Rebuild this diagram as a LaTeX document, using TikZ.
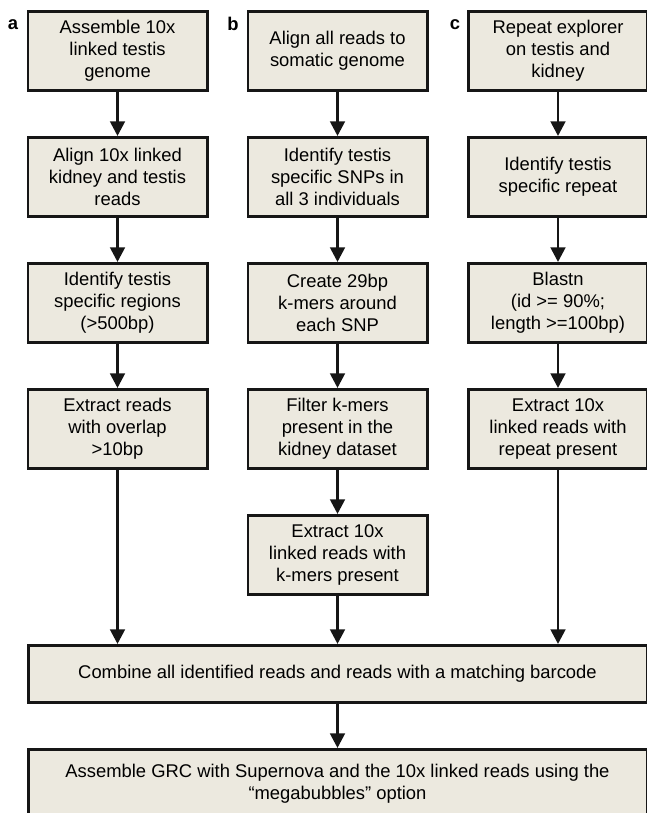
\documentclass[tikz,border=0pt]{standalone}
\usepackage{fontspec}
\setmainfont{Liberation Sans}
\usetikzlibrary{arrows.meta, positioning}
\definecolor{boxfill}{HTML}{ECE9DF}
\definecolor{boxline}{HTML}{161616}
\tikzset{
  >={Triangle[length=11pt, width=11pt]},
  every picture/.style={line join=miter, font=\fontsize{13.8}{16.5}\selectfont},
  stepbox/.style={draw=boxline, fill=boxfill, line width=2pt, align=center,
                  minimum width=134.5pt, minimum height=59.5pt, inner sep=1pt},
  widebox/.style={stepbox, minimum width=464pt},
  flow/.style={->, line width=2.1pt, boxline},
  panel/.style={font=\fontsize{13.8}{16}\selectfont\bfseries},
}

\begin{document}
\begin{tikzpicture}[x=0.75pt, y=-0.75pt, node distance=33pt]
  \useasboundingbox (0,0) rectangle (646,813);
  % ---- column a: testis specific regions
  \node[panel] (la) at (13,25) {a};
  \node[stepbox] (a1) at (117.5,51) {Assemble 10x\\linked testis\\genome};
  \node[stepbox, below=of a1] (a2) {Align 10x linked\\kidney and testis\\reads};
  \node[stepbox, below=of a2] (a3) {Identify testis\\specific regions\\(>500bp)};
  \node[stepbox, below=of a3] (a4) {Extract reads\\with overlap\\>10bp};
  % ---- column b: testis specific SNPs
  \node[panel] (lb) at (233,24) {b};
  \node[stepbox] (b1) at (337.5,51) {Align all reads to\\somatic genome};
  \node[stepbox, below=of b1] (b2) {Identify testis\\specific SNPs in\\all 3 individuals};
  \node[stepbox, below=of b2] (b3) {Create 29bp\\k-mers around\\each SNP};
  \node[stepbox, below=of b3] (b4) {Filter k-mers\\present in the\\kidney dataset};
  \node[stepbox, below=of b4] (b5) {Extract 10x\\linked reads with\\k-mers present};
  % ---- column c: testis specific repeats
  \node[panel] (lc) at (455,25) {c};
  \node[stepbox] (c1) at (558,51) {Repeat explorer\\on testis and\\kidney};
  \node[stepbox, below=of c1] (c2) {Identify testis\\specific repeat};
  \node[stepbox, below=of c2] (c3) {Blastn\\(id >= 90\%;\\length >=100bp)};
  \node[stepbox, below=of c3] (c4) {Extract 10x\\linked reads with\\repeat present};
  % ---- merge and assembly
  \node[widebox, minimum height=43pt] (comb) at (337.5,674)
    {Combine all identified reads and reads with a matching barcode};
  \node[widebox, minimum height=52pt, below=of comb] (asm)
    {Assemble GRC with Supernova and the 10x linked reads using the\\“megabubbles” option};
  % ---- arrows
  \foreach \col/\n in {a/4, b/5, c/4} {
    \foreach \i [evaluate=\i as \j using int(\i+1)] in {1,...,\numexpr\n-1\relax}
      \draw[flow] (\col\i) -- (\col\j);
  }
  \draw[flow] (a4) -- (a4 |- comb.north);
  \draw[flow] (b5) -- (comb);
  \draw[flow] (c4) -- (c4 |- comb.north);
  \draw[flow] (comb) -- (asm);
\end{tikzpicture}
\end{document}
